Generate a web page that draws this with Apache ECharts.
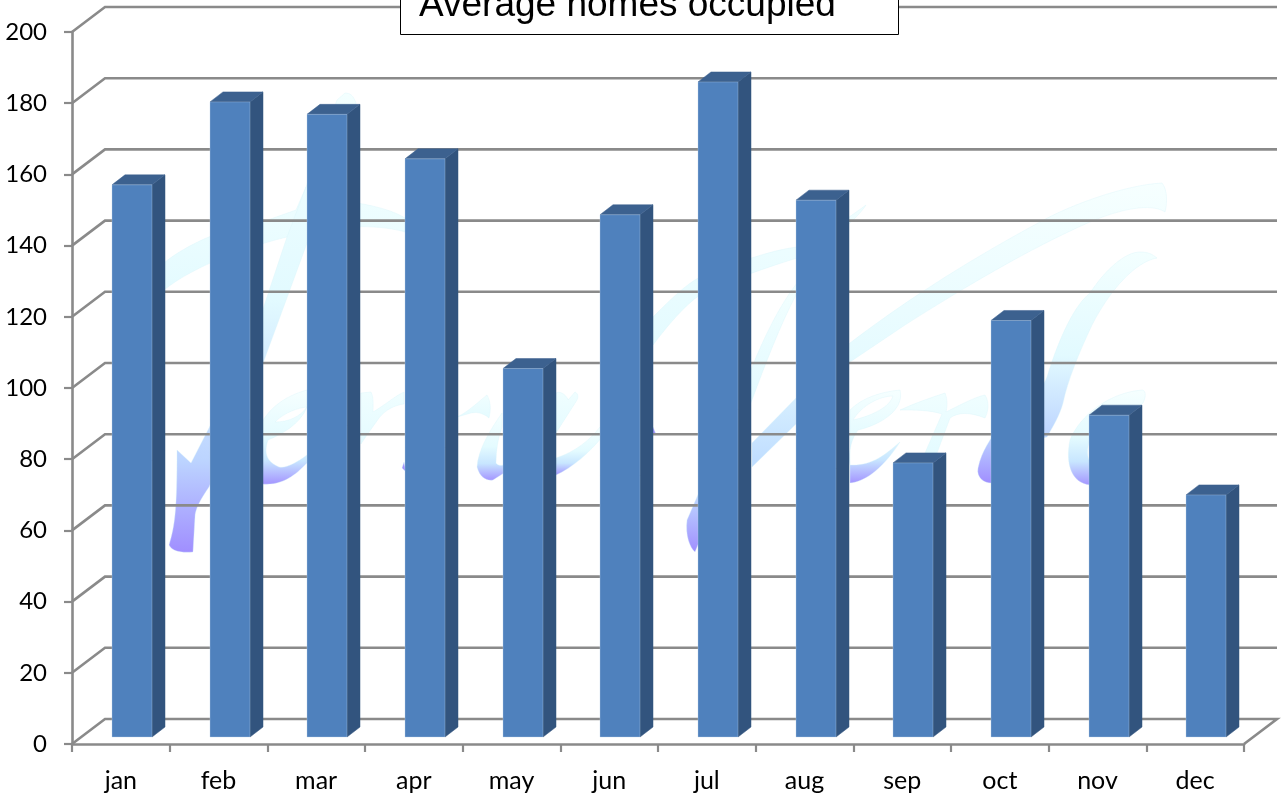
<!DOCTYPE html>
<html>
<head>
<meta charset="utf-8">
<style>html,body{margin:0;padding:0;background:#fff}#c{width:1283px;height:802px}</style>
<script src="https://cdn.jsdelivr.net/npm/echarts@6/dist/echarts.min.js"></script>
</head>
<body>
<div id="c"></div>
<script>
const categories = ['jan','feb','mar','apr','may','jun','jul','aug','sep','oct','nov','dec'];
const occupied = [155.1,178.4,174.9,162.4,103.5,146.7,184,150.8,77,117,90.4,68];
const gridTicks = [0,20,40,60,80,100,120,140,160,180,200];
const chartTitle = 'Average homes occupied';

const wallDX = 33, wallDY = -25;
const barW = 40, baseDX = 11, baseDY = -7, sideDX = 13, sideDY = -10;

const pale = {type:'linear',x:0,y:0,x2:0,y2:1,colorStops:[
  {offset:0,color:'#f6ffff'},{offset:.5,color:'#e4fbff'},{offset:.75,color:'#c8e6ff'},{offset:1,color:'#a394ff'}]};
const faint = {type:'linear',x:0,y:0,x2:0,y2:1,colorStops:[
  {offset:0,color:'#f0feff'},{offset:1,color:'#e4fbff'}]};
const fade = {type:'linear',x:0,y:0,x2:0,y2:1,colorStops:[
  {offset:0,color:'#f3ffff'},{offset:.45,color:'#e2faff'},{offset:.8,color:'#bcd4ff'},{offset:1,color:'#a08eff'}]};
const longFade = {type:'linear',x:0,y:0,x2:0,y2:1,colorStops:[
  {offset:0,color:'#f6ffff'},{offset:.6,color:'#e6fbff'},{offset:1,color:'#bedcff'}]};
const dot = '#a394ff';

const watermark = [
  // first word
  ['M164 290 L164 263 C185 245 230 225 262 222 L296 210 L306 187 L312 200 C335 198 385 205 405 218 L405 232 C385 226 340 222 287 237 C250 246 195 265 164 290 Z', faint],
  ['M345 93 C352 93 354 98 356 103 L307 243 L262 366 L209 487 C200 500 195 510 195 517 L193 552 C180 553 172 551 169 545 C175 525 177 510 177 450 L191 463 L209 428 L262 312 L287 237 L306 187 L337 100 Z', fade],
  ['M307 390 C285 396 262 410 255 440 C252 470 255 483 262 484 C285 486 298 472 307 463 L307 455 C298 462 285 469 279 467 C268 462 263 455 268 440 C280 435 300 425 307 407 Z M275 422 C285 412 298 408 307 407 C300 417 288 422 275 422 Z', pale],
  ['M361 393 L371 392 C374 398 373 406 373 412 C385 405 395 396 404 392 L404 404 C395 405 385 410 379 418 C372 428 366 436 361 444 Z', faint],
  ['M457 417 C468 412 478 402 487 395 C491 402 491 410 489 418 C482 412 475 412 471 413 Z', faint],
  ['M502 413 C490 430 478 450 477 467 C480 478 487 481 493 480 L504 473 L504 465 C500 466 497 465 496 463 C496 450 498 438 502 427 Z', pale],
  ['M556 458 C575 452 590 440 600 427 L602 437 C590 452 572 468 556 475 Z', pale],
  ['M556 393 C562 390 568 398 568 400 L575 392 C579 394 578 398 577 400 L556 433 Z', faint],
  ['M653 427 L656 434 L651 433 Z', dot],
  ['M404 462 L406 472 L402 468 Z', dot],
  // second word
  ['M653 317 C670 300 685 285 700 277 C730 265 770 250 797 247 C825 235 848 218 866 205 C855 222 825 245 797 258 C765 268 730 280 700 295 C685 305 668 325 653 345 Z', faint],
  ['M797 283 C780 305 765 335 752 367 C735 410 715 450 700 490 L687 520 C685 535 690 548 695 552 L700 540 C708 500 730 450 752 400 C765 365 780 325 797 293 Z', fade],
  ['M752 443 L797 397 L850 343 C900 305 960 265 1040 222 C1070 205 1125 185 1162 183 C1168 190 1167 205 1165 212 C1155 205 1130 205 1090 222 C1030 248 960 290 905 325 L850 362 L797 423 L752 467 Z', longFade],
  ['M900 390 C880 392 862 398 850 410 L850 483 C862 482 880 473 900 442 C885 455 872 466 850 465 C848 450 852 438 858 430 C880 425 905 410 900 390 Z M853 420 C862 405 880 396 893 396 C890 406 875 415 853 420 Z', pale],
  ['M900 410 C915 403 930 398 945 393 C948 400 947 408 946 412 C960 405 975 397 985 395 C990 403 988 412 985 418 C970 412 958 412 950 418 L937 453 L925 453 L942 414 C930 410 915 410 900 410 Z', faint],
  ['M1157 258 C1135 262 1110 290 1092 325 C1078 355 1068 380 1063 403 C1060 415 1052 428 1047 437 L1033 440 C1010 455 1000 470 993 483 C985 484 976 478 978 468 C982 450 990 440 1000 425 C1020 405 1040 395 1047 377 C1060 335 1075 305 1090 293 C1105 270 1125 252 1140 252 C1148 252 1152 254 1157 258 Z', fade],
  ['M1143 390 C1110 392 1080 415 1070 440 C1065 465 1072 483 1090 485 L1092 465 C1087 458 1085 450 1092 435 C1110 420 1135 412 1143 403 C1146 397 1146 392 1143 390 Z', pale]
];

const chart = echarts.init(document.getElementById('c'), null, {renderer:'canvas'});
const gray = '#8a8a8a';

function renderWatermark(params) {
  const w = watermark[params.dataIndex];
  const r = echarts.graphic.makePath(w[0], {}).getBoundingRect();
  return {type:'path', silent:true,
    shape:{pathData:w[0], layout:'cover', x:r.x, y:r.y, width:r.width, height:r.height},
    style:{fill:w[1], stroke:'rgba(215,245,250,.6)', lineWidth:.6}};
}

function renderWall(params, api) {
  const cs = params.coordSys;
  const v = api.value(0);
  const y = api.coord([0, v])[1];
  const x0 = cs.x, x1 = cs.x + cs.width;
  const pts = [[x0,y],[x0+wallDX,y+wallDY],[x1+wallDX,y+wallDY]];
  if (v === 0) pts.push([x1,y]);
  return {type:'polyline', shape:{points:pts}, style:{stroke:gray, lineWidth:2.6, fill:null}};
}

function renderBar(params, api) {
  const c = api.coord([api.value(0), api.value(1)]);
  const b = api.coord([api.value(0), 0]);
  const L = Math.round(c[0] + baseDX - barW/2), R = L + barW;
  const T = c[1] + baseDY, B = b[1] + baseDY;
  const poly = (pts, fill) => ({type:'polygon', shape:{points:pts}, style:{fill, stroke:fill, lineWidth:.5}});
  return {type:'group', children:[
    poly([[R,T],[R+sideDX,T+sideDY],[R+sideDX,B+sideDY],[R,B]], '#32547e'),
    poly([[L,T],[L+sideDX,T+sideDY],[R+sideDX,T+sideDY],[R,T]], '#3c618f'),
    {type:'rect', shape:{x:L,y:T,width:barW,height:B-T}, style:{fill:'#4f81bd', stroke:'rgba(185,205,229,.35)', lineWidth:1}}
  ]};
}

chart.setOption({
  animation:false,
  backgroundColor:'#ffffff',
  title:{
    text:chartTitle, left:400, top:-13,
    padding:[0,63,11,19],
    backgroundColor:'#fff', borderColor:'#000', borderWidth:1,
    textStyle:{fontFamily:'Liberation Sans', fontSize:37, fontWeight:'normal', color:'#000', lineHeight:37}
  },
  grid:{left:72, right:39, top:32, bottom:58, containLabel:false},
  xAxis:{
    type:'category', data:categories,
    axisLine:{lineStyle:{color:gray,width:2.6}},
    axisTick:{show:true,length:8,lineStyle:{color:gray,width:2.2}},
    axisLabel:{fontFamily:'Lato', fontSize:25, color:'#000', margin:24, interval:0},
    splitLine:{show:false}
  },
  yAxis:{
    type:'value', min:0, max:200, interval:20,
    axisLine:{show:true,lineStyle:{color:gray,width:2.6}},
    axisTick:{show:true,length:8,lineStyle:{color:gray,width:2.2}},
    axisLabel:{fontFamily:'Lato', fontSize:24, color:'#000', margin:25},
    splitLine:{show:false}
  },
  series:[
    {type:'custom', name:'watermark', z:0, silent:true, clip:false, renderItem:renderWatermark,
     data:watermark.map(() => [0,0]), encode:{x:0,y:1}},
    {type:'custom', name:'walls', z:1, silent:true, clip:false, renderItem:renderWall,
     data:gridTicks.map(v => [v]), encode:{y:0}},
    {type:'custom', name:'occupied', z:3, clip:false, renderItem:renderBar,
     data:occupied.map((v,i) => [i,v]), encode:{x:0,y:1}}
  ]
});
</script>
</body>
</html>
